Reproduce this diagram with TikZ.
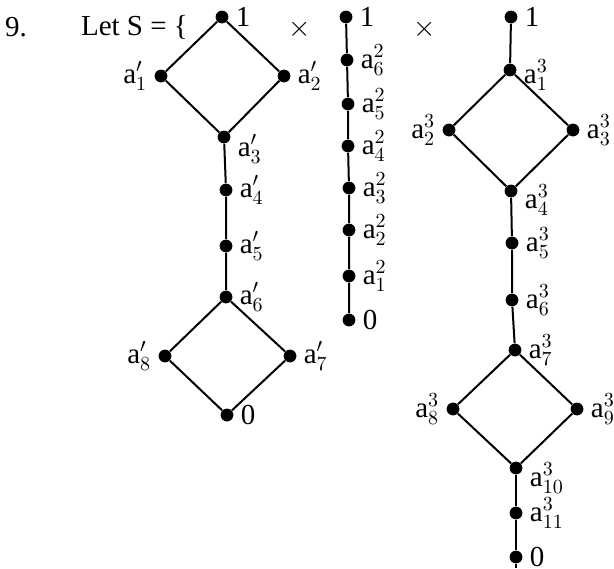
\documentclass[tikz,border=0pt]{standalone}
\usepackage{fontspec}
\setmainfont{Liberation Serif}
\usetikzlibrary{positioning}

\tikzset{
	pt/.style={circle,fill=black,inner sep=0pt,minimum size=6.4pt},
	ed/.style={line width=1pt},
}
\newcommand{\ap}[1]{a$^{\prime}_{#1}$}
\newcommand{\at}[2]{a$^{#1}_{#2}$}

\begin{document}
\begin{tikzpicture}[x=0.5pt,y=-0.5pt,font=\fontsize{14.5}{17}\selectfont]
		\useasboundingbox (0,0) rectangle (614,568);

		\node (num) at (16,27) {9.};
		\node[anchor=west] (lets) at (74,27) {Let S = \{};
		\node (x1) at (300,29) {$\times$};
		\node (x2) at (425,29) {$\times$};

		% first lattice
		\node[pt,label=right:1] (p1) at (222,17) {};
		\node[pt,label=left:\ap1] (p2) at (161,76) {};
		\node[pt,label=right:\ap2] (p3) at (284,76) {};
		\node[pt,label={[yshift=-6pt]right:\ap3}] (p4) at (224,137) {};
		\node[pt,label=right:\ap4] (p5) at (226,190) {};
		\node[pt,label=right:\ap5] (p6) at (226,246) {};
		\node[pt,label=right:\ap6] (p7) at (226,297) {};
		\node[pt,label=left:\ap8] (p8) at (165,356) {};
		\node[pt,label=right:\ap7] (p9) at (290,356) {};
		\node[pt,label=right:0] (p10) at (227,415) {};
		\draw[ed] (p1) -- (p2) -- (p4) -- (p3) -- (p1);
		\draw[ed] (p4) -- (p5) -- (p6) -- (p7);
		\draw[ed] (p7) -- (p8) -- (p10) -- (p9) -- (p7);

		% chain
		\node[pt,label=right:1] (q1) at (346,17) {};
		\node[pt,label=right:\at26] (q2) at (347,60) {};
		\node[pt,label=right:\at25] (q3) at (348,104) {};
		\node[pt,label=right:\at24] (q4) at (348,146) {};
		\node[pt,label=right:\at23] (q5) at (349,188) {};
		\node[pt,label=right:\at22] (q6) at (349,230) {};
		\node[pt,label=right:\at21] (q7) at (349,276) {};
		\node[pt,label=right:0] (q8) at (349,320) {};
		\draw[ed] (q1) -- (q2) -- (q3) -- (q4) -- (q5) -- (q6) -- (q7) -- (q8);

		% second lattice
		\node[pt,label=right:1] (r1) at (511,17) {};
		\node[pt,label={[yshift=-2.5pt]right:\at31}] (r2) at (510,70) {};
		\node[pt,label=left:\at32] (r3) at (449,130) {};
		\node[pt,label=right:\at33] (r4) at (573,130) {};
		\node[pt,label={[yshift=-4.5pt]right:\at34}] (r5) at (511,191) {};
		\node[pt,label=right:\at35] (r6) at (512,243) {};
		\node[pt,label=right:\at36] (r7) at (512,300) {};
		\node[pt,label=right:\at37] (r8) at (515,350) {};
		\node[pt,label=left:\at38] (r9) at (453,409) {};
		\node[pt,label=right:\at39] (r10) at (577,409) {};
		\node[pt,label={[yshift=-5pt]right:\at3{10}}] (r11) at (516,468) {};
		\node[pt,label=right:\at3{11}] (r12) at (516,513) {};
		\node[pt,label=right:0] (r13) at (516,557) {};
		\coordinate (rend) at (516,568);
		\draw[ed] (r1) -- (r2) -- (r3) -- (r5) -- (r4) -- (r2);
		\draw[ed] (r5) -- (r6) -- (r7) -- (r8);
		\draw[ed] (r8) -- (r9) -- (r11) -- (r10) -- (r8);
		\draw[ed] (r11) -- (r12) -- (r13) -- (rend);
	\end{tikzpicture}
\end{document}
